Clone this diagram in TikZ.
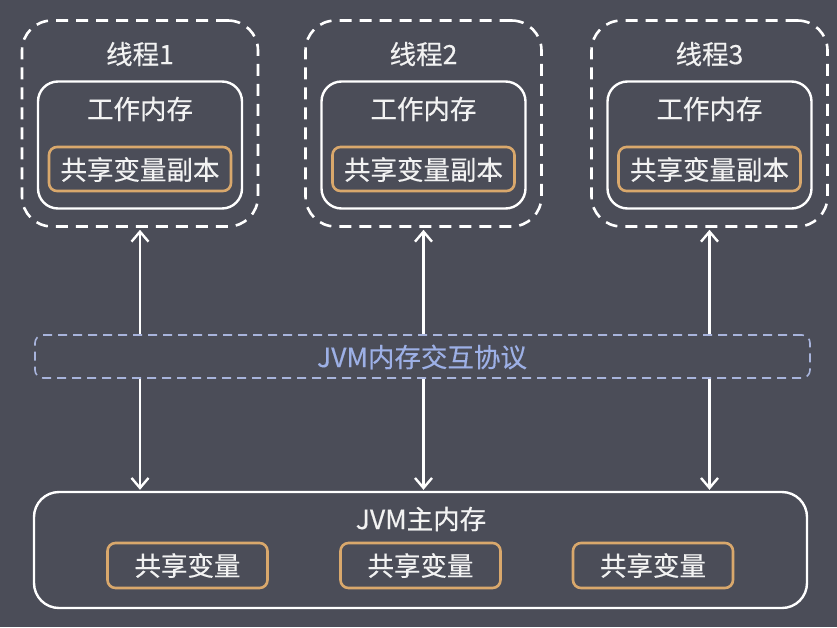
\documentclass[tikz,border=0pt]{standalone}
\usepackage{fontspec}
\newfontfamily\cjk[FakeBold=0.4]{Noto Sans CJK SC}
\usetikzlibrary{arrows.meta}
\definecolor{bg}{HTML}{4B4D58}
\definecolor{orng}{HTML}{D9A86C}
\definecolor{lav}{HTML}{A8B4DC}
\definecolor{lavtxt}{HTML}{9DB0E6}
\definecolor{txt}{HTML}{F2F2F2}
\tikzset{
  threadbox/.style={draw=white, line width=2.6pt, dash pattern=on 12pt off 8pt, rounded corners=30pt, minimum width=236pt, minimum height=206pt, inner sep=0pt},
  workbox/.style={draw=white, line width=2.4pt, rounded corners=20pt, minimum width=204pt, minimum height=127pt, inner sep=0pt},
  copybox/.style={draw=orng, line width=2.6pt, rounded corners=8pt, minimum width=182pt, minimum height=44pt, inner sep=0pt},
  varbox/.style={draw=orng, line width=2.6pt, rounded corners=8pt, minimum width=160pt, minimum height=45pt, inner sep=0pt},
  membox/.style={draw=white, line width=2.4pt, rounded corners=25pt, minimum width=773pt, minimum height=116pt, inner sep=0pt},
  protobox/.style={draw=lav, line width=1.6pt, dash pattern=on 9pt off 6pt, rounded corners=8pt, fill=bg, minimum width=775pt, minimum height=43pt, inner sep=0pt},
  lbl/.style={text=txt, font=\cjk\fontsize{26.5pt}{30pt}\selectfont, inner sep=0pt},
  link/.style={draw=white, line width=2.4pt, {Straight Barb[length=10pt,width=17pt,line width=2.4pt]}-{Straight Barb[length=10pt,width=17pt,line width=2.4pt]}}
}
\begin{document}
\begin{tikzpicture}[x=1pt,y=-1pt]
\fill[bg] (0,0) rectangle (837,627);
\useasboundingbox (0,0) rectangle (837,627);
% threads
\foreach \i/\cx in {1/140,2/423.5,3/709.5}{
  \node[threadbox] (t\i) at (\cx,123.5) {};
  \node[workbox] (w\i) at (\cx,145) {};
  \node[copybox] (c\i) at (\cx,169) {};
  \node[lbl] (tl\i) at (\cx,54) {线程\i};
  \node[lbl] (wl\i) at (\cx,109) {工作内存};
  \node[lbl] (cl\i) at (\cx,169.5) {共享变量副本};
}
% main memory
\node[membox] (mem) at (420.5,550) {};
\node[lbl] (meml) at (421,519) {JVM主内存};
\node[varbox] (v1) at (187.5,565.5) {};
\node[varbox] (v2) at (420.5,565.5) {};
\node[varbox] (v3) at (653,565.5) {};
\node[lbl] (vl1) at (v1) {共享变量};
\node[lbl] (vl2) at (v2) {共享变量};
\node[lbl] (vl3) at (v3) {共享变量};
% links
\foreach \i in {1,2,3}{
  \draw[link] ([yshift=-2pt]t\i.south) -- ([yshift=1pt]t\i.south |- mem.north);
}
% protocol
\node[protobox] (proto) at (422.5,356.5) {};
\node[lbl, text=lavtxt] (protol) at (422,357) {JVM内存交互协议};
\end{tikzpicture}
\end{document}
